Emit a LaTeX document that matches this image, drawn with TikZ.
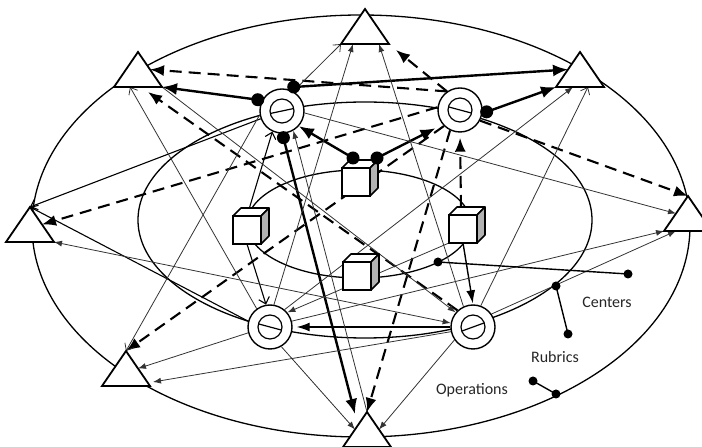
\documentclass[tikz,border=0pt]{standalone}
\usepackage{fontspec}
\newfontfamily\labelfont{Carlito}
\usetikzlibrary{arrows.meta,shapes.geometric,backgrounds}

\tikzset{
  ring/.style={circle, draw, fill=white, line width=1.4pt, minimum size=44pt, inner sep=0pt},
  tri/.style={isosceles triangle, isosceles triangle stretches, shape border rotate=90,
    draw, fill=white, line width=1.8pt, minimum width=48pt, minimum height=35pt,
    inner sep=0pt, outer sep=0pt},
  cube/.style={rectangle, draw, fill=white, line width=1.6pt, minimum size=28pt,
    inner sep=0pt, outer sep=0pt},
  boldlink/.style={line width=2.4pt, -{Latex[length=15pt,width=12pt]}},
  dashlink/.style={line width=2.1pt, dash pattern=on 12pt off 7pt, -{Latex[length=14pt,width=11pt]}},
  midlink/.style={line width=1.4pt, -{Latex[length=13pt,width=9pt]}},
  thinlink/.style={line width=0.8pt, black!80, -{Latex[length=8pt,width=6pt]}},
  openlink/.style={line width=1.1pt, -{Straight Barb[length=6pt,width=11pt]}},
  thinopen/.style={line width=0.8pt, black!80, -{Straight Barb[length=6pt,width=10pt]}},
  lbl/.style={font=\labelfont\fontsize{16}{18}\selectfont, text=black!85}
}

\begin{document}
\begin{tikzpicture}[x=1pt,y=1pt]
    \useasboundingbox (0,0) rectangle (702,447);

    \node[ring] (rTL) at (282,336) {};
    \node[ring] (rTR) at (460,337) {};
    \node[ring] (rBL) at (270,120) {};
    \node[ring] (rBR) at (473,120) {};

    \node[cube] (cT) at (356,265) {};
    \node[cube] (cL) at (247,217) {};
    \node[cube] (cR) at (463,218) {};
    \node[cube] (cB) at (357,171) {};

    \node[tri, anchor=apex] (tT) at (365,438) {};
    \node[tri, anchor=apex] (tTL) at (138,395) {};
    \node[tri, anchor=apex] (tTR) at (580,395) {};
    \node[tri, anchor=apex] (tL) at (30,240) {};
    \node[tri, anchor=apex] (tR) at (688,251) {};
    \node[tri, anchor=apex] (tBL) at (126,96) {};
    \node[tri, anchor=apex] (tB) at (367,35) {};

    \coordinate (dTL1) at ([shift={(155:4pt)}]rTL.155);
    \coordinate (dTL2) at ([shift={(64:4pt)}]rTL.64);
    \coordinate (dTL3) at ([shift={(-87:4pt)}]rTL.-87);
    \coordinate (dTR1) at ([shift={(-4:4pt)}]rTR.-4);
    \coordinate (dCT1) at ([shift={(11pt,10pt)}]cT.north west);
    \coordinate (dCT2) at ([shift={(7pt,10pt)}]cT.north east);

    \begin{scope}[on background layer]
        \draw[line width=1.3pt] (361,221) ellipse [x radius=329pt, y radius=211pt];
        \draw[line width=1.3pt] (365,227) ellipse [x radius=227pt, y radius=118pt];
        \draw[line width=1.3pt] (359,223) ellipse [x radius=112pt, y radius=54pt];

        \draw[boldlink] (dTL1) -- (tTL.right corner);
        \draw[boldlink] (dTL2) -- (tTR.left side);
        \draw[boldlink] (dTL3) -- ([shift={(-12pt,-2pt)}]tB.apex);
        \draw[boldlink] (dTR1) -- (tTR.left corner);
        \draw[boldlink] (dCT1) -- (rTL.-42);
        \draw[boldlink, shorten >=8pt] (dCT2) -- (rTR.-140);

        \draw[dashlink] (rTR.125) -- (tTL.right side);
        \draw[dashlink] (rTR.125) -- ([shift={(7pt,-6pt)}]tT.right corner);
        \draw[dashlink] (rTR.-28) -- (tR.apex);
        \draw[dashlink] (rTR.173) -- (tL.right side);
        \draw[dashlink] (rTR.-135) -- (tBL.apex);
        \draw[dashlink] (rTR.-116) -- (tB.apex);
        \draw[dashlink] (rBR.133) -- ([shift={(-14pt,-5pt)}]tTL.right corner);
        \draw[dashlink, shorten >=5pt] ([shift={(-2pt,8pt)}]cR.north) -- (rTR.south);

        \draw[midlink, shorten >=1pt] (cR.south) -- (rBR.north);
        \draw[midlink, shorten >=4pt] (rBR.180) -- (rBL.0);

        \draw[openlink] (rTL.200) -- (tL.apex);
        \draw[openlink] (rBL.165) -- (tL.apex);
        \draw[openlink] (cL.north) -- (rTL.245);
        \draw[openlink] (cL.south) -- (rBL.100);
        \draw[thinopen] (rBL.126) -- ([xshift=-8pt]tTL.lower side);
        \draw[thinopen] (rTL.190) -- (tBL.apex);
        \draw[thinopen] (rTL.60) -- (tT.left corner);
        \draw[thinopen] (rBR.70) -- ([xshift=8pt]tTR.lower side);

        \draw[thinlink] (rBL.80) -- ([xshift=-12pt]tT.lower side);
        \draw[thinlink] (rBR.115) -- ([xshift=14pt]tT.lower side);
        \draw[thinlink] (rBL.50) -- ([xshift=-7pt]tTR.lower side);
        \draw[thinlink] (rTL.-5) -- (tR.left side);
        \draw[thinlink] (rBL.15) -- (tR.left corner);
        \draw[thinlink] (rBR.35) -- ([xshift=-12pt]tR.lower side);
        \draw[thinlink, {Latex[length=8pt,width=6pt]}-{Latex[length=8pt,width=6pt]}] (tL.right corner) -- (rBR.170);
        \draw[thinlink] (rBL.195) -- (tBL.right side);
        \draw[thinlink] (rBR.192) -- ([shift={(3pt,4pt)}]tBL.right corner);
        \draw[thinlink] (rBR.215) -- (tB.right side);
        \draw[thinlink] (rBL.-60) -- (tB.left side);
        \draw[thinlink] (tTL.right corner) -- (rBR.140);
        \draw[thinlink] (cR.south west) -- (rBL.40);
        \draw[thinlink] (tB.apex) -- (rTL.-60);
    \end{scope}

    \foreach \r/\a in {rTL/12, rTR/-15, rBL/-15, rBR/20} {
        \draw[line width=1.2pt] (\r.center) circle (12pt);
        \draw[line width=1.2pt] ([shift={(\a:12pt)}]\r.center) -- ([shift={({\a+180}:12pt)}]\r.center);
    }

    \foreach \c in {cT, cL, cR, cB} {
        \filldraw[fill=white, line width=1.6pt, line join=round]
            (\c.north west) -- ++(8,8) -- ++(28,0) -- (\c.north east) -- cycle;
        \filldraw[fill=black!30, line width=1.6pt, line join=round]
            (\c.north east) -- ++(8,8) -- ++(0,-28) -- (\c.south east) -- cycle;
    }

    \fill (dTL1) circle (6.5pt) (dTL2) circle (6.5pt) (dTL3) circle (6.5pt)
          (dTR1) circle (6.5pt) (dCT1) circle (6.5pt) (dCT2) circle (6.5pt);

    \node[lbl] (centers) at (607,145) {Centers};
    \node[lbl] (rubrics) at (555,90) {Rubrics};
    \node[lbl] (operations) at (472,57) {Operations};

    \coordinate (cen1) at (438,185);
    \coordinate (cen2) at (628,173);
    \coordinate (rub1) at (556,161);
    \coordinate (rub2) at (568,113);
    \coordinate (ope1) at (556,53);
    \coordinate (ope2) at (533,66);
    \draw[line width=1.4pt] (cen1) -- (cen2) (rub1) -- (rub2) (ope1) -- (ope2);
    \fill (cen1) circle (4.5pt) (cen2) circle (4.5pt) (rub1) circle (4.5pt)
          (rub2) circle (4.5pt) (ope1) circle (4.5pt) (ope2) circle (4.5pt);
\end{tikzpicture}
\end{document}
